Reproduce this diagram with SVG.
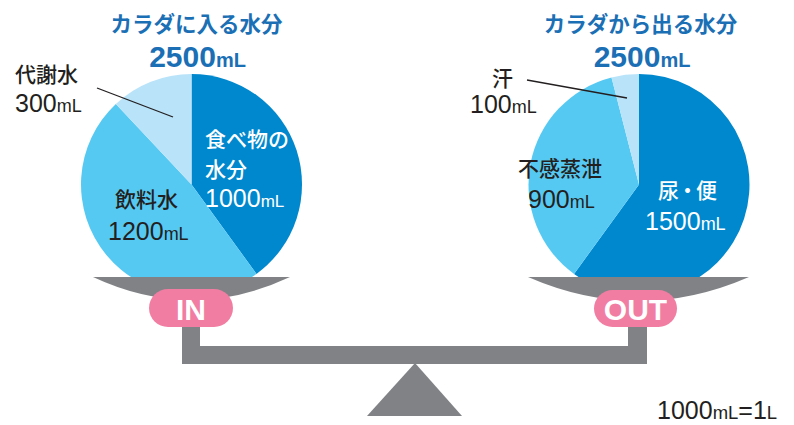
<svg xmlns="http://www.w3.org/2000/svg" width="794" height="425" viewBox="0 0 794 425">
<style>
.dark{fill:#0088CE}
.light{fill:#56C9F3}
.pale{fill:#B9E3F9}
.gray{fill:#808285}
.pill{fill:#F17DA2}
.title{font-family:"Noto Sans CJK JP","Liberation Sans",sans-serif;font-weight:bold;font-size:21.5px;fill:#1B6FB5;text-anchor:middle}
.big{font-family:"Liberation Sans",Arial,sans-serif;font-weight:bold;fill:#1B6FB5;text-anchor:middle}
.jp{font-family:"Noto Sans CJK JP",sans-serif;font-weight:500;font-size:21px;fill:#231F20}
.num{font-family:"Liberation Sans",Arial,sans-serif;font-size:25px;fill:#231F20}
.w{fill:#FFFFFF}
.ml{font-size:18px}
.lbl{font-family:"Liberation Sans",Arial,sans-serif;font-weight:bold;font-size:30px;fill:#FFFFFF;text-anchor:middle}
.lead{stroke:#231F20;stroke-width:1.3;fill:none}
</style>
<defs>
<clipPath id="cut"><rect x="0" y="0" width="794" height="277"/></clipPath>
</defs>
<g id="stand">
<path class="gray" d="M182,310 H200 V346 H628 V310 H647 V364 H182 Z"/>
<polygon class="gray" points="415,363 367,416 462,416"/>
</g>
<g id="in-pie" clip-path="url(#cut)">
<path class="dark" d="M191.5,184.5 L191.5,74 A110.5,110.5 0 0 1 256.45,273.9 Z"/>
<path class="light" d="M191.5,184.5 L256.45,273.9 A110.5,110.5 0 0 1 115.86,103.95 Z"/>
<path class="pale" d="M191.5,184.5 L115.86,103.95 A110.5,110.5 0 0 1 191.5,74 Z"/>
</g>
<g id="out-pie" clip-path="url(#cut)">
<path class="dark" d="M639,184.5 L639,74 A110.5,110.5 0 1 1 574.05,273.9 Z"/>
<path class="light" d="M639,184.5 L574.05,273.9 A110.5,110.5 0 0 1 611.52,77.47 Z"/>
<path class="pale" d="M639,184.5 L611.52,77.47 A110.5,110.5 0 0 1 639,74 Z"/>
</g>
<g id="in-plate">
<path class="gray" d="M93,277 H290 Q191.5,323 93,277 Z"/>
<rect class="pill" x="149" y="289" width="84" height="38" rx="19"/>
<text class="lbl" x="191" y="319.5">IN</text>
</g>
<g id="out-plate">
<path class="gray" d="M528,277 H749 Q638.5,325 528,277 Z"/>
<rect class="pill" x="594" y="290" width="83" height="37" rx="18.5"/>
<text class="lbl" x="635.5" y="319.5">OUT</text>
</g>
<g id="connectors">
<line class="lead" x1="97" y1="88" x2="173" y2="117"/>
<line class="lead" x1="527" y1="80" x2="627" y2="98"/>
</g>
<g id="in-title">
<text class="title" x="196.5" y="32">カラダに入る水分</text>
<text class="big" x="197.5" y="66.5"><tspan font-size="30">2500</tspan><tspan font-size="20">mL</tspan></text>
</g>
<g id="out-title">
<text class="title" x="640.5" y="32">カラダから出る水分</text>
<text class="big" x="642" y="66.5"><tspan font-size="30">2500</tspan><tspan font-size="20">mL</tspan></text>
</g>
<g id="metabolic">
<text class="jp" x="15" y="82" font-size="23">代謝水</text>
<text class="num" x="15" y="112">300<tspan class="ml">mL</tspan></text>
</g>
<g id="food">
<text class="jp w" x="205" y="147">食べ物の</text>
<text class="jp w" x="205" y="177">水分</text>
<text class="num w" x="205" y="207" font-size="23.5">1000<tspan font-size="17">mL</tspan></text>
</g>
<g id="drink">
<text class="jp" x="115" y="207">飲料水</text>
<text class="num" x="108" y="240">1200<tspan class="ml">mL</tspan></text>
</g>
<g id="sweat">
<text class="jp" x="492" y="86" font-size="22">汗</text>
<text class="num" x="470" y="113">100<tspan class="ml">mL</tspan></text>
</g>
<g id="insensible">
<text class="jp" x="518" y="176" font-size="23">不感蒸泄</text>
<text class="num" x="528" y="208">900<tspan class="ml">mL</tspan></text>
</g>
<g id="urine">
<text class="jp w" x="658" y="198" letter-spacing="-2">尿・便</text>
<text class="num w" x="645" y="230">1500<tspan class="ml">mL</tspan></text>
</g>
<g id="note">
<text class="num" x="657" y="419" font-size="24.5">1000<tspan font-size="18.5">mL</tspan>=1<tspan font-size="18.5">L</tspan></text>
</g>
</svg>
